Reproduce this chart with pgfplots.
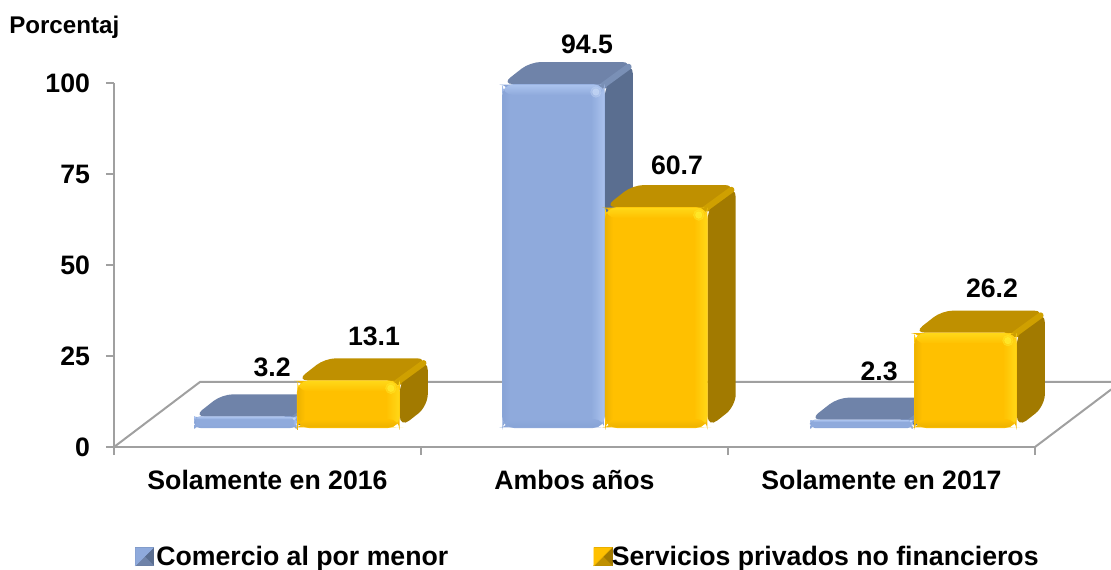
\documentclass[border=0pt]{standalone}
\usepackage{fontspec}
\setmainfont{Liberation Sans}
\usepackage{pgfplots}
\pgfplotsset{compat=1.18}

\definecolor{axisgray}{HTML}{A0A0A0}
% bar palettes: outer edge, light edge, face, top, side, diagonal band, highlight
\definecolor{bluea}{HTML}{87A3D6}
\definecolor{blueb}{HTML}{ABC3EE}
\definecolor{blueface}{HTML}{8FAADC}
\definecolor{bluetop}{HTML}{6F83A9}
\definecolor{blueside}{HTML}{5A6E90}
\definecolor{blueband}{HTML}{7A90B6}
\definecolor{bluespec}{HTML}{C6D8F6}
\definecolor{golda}{HTML}{EDB200}
\definecolor{goldb}{HTML}{FFD818}
\definecolor{goldface}{HTML}{FFC000}
\definecolor{goldtop}{HTML}{BF9000}
\definecolor{goldside}{HTML}{A27A00}
\definecolor{goldband}{HTML}{CFA000}
\definecolor{goldspec}{HTML}{FFEE30}

\newcommand{\chartfont}{\fontsize{20}{23}\selectfont\bfseries}

% rectangle as a closed plot, started mid-edge so that all corners get rounded
\newcommand{\rectplot}[6]{% fill options, radius, xl, xr, yb, yt
  \pgfmathsetmacro\xm{(#3+#4)/2}
  \edef\tmp{\noexpand\addplot[forget plot, draw=none, #1, rounded corners=#2pt]
    coordinates {(\xm,#5) (#4,#5) (#4,#6) (#3,#6) (#3,#5)} -- cycle;}\tmp
}
\newcommand{\polyplot}[3]{% colour, radius, points
  \edef\tmp{\noexpand\addplot[forget plot, draw=none, fill=#1, rounded corners=#2pt]
    coordinates {#3} -- cycle;}\tmp
}

% one 3D bar: palette, left x of the front face, value
\newcommand{\cube}[3]{%
  \pgfmathsetmacro\xl{#2}
  \pgfmathsetmacro\xr{#2+0.335}
  \pgfmathsetmacro\ya{5.22}
  \pgfmathsetmacro\yb{5.22+#3}
  \pgfmathsetmacro\xdr{\xr+0.0912}
  \pgfmathsetmacro\xdl{\xl+0.0912}
  \pgfmathsetmacro\ydb{\yb+6.04}
  \pgfmathsetmacro\yda{\ya+6.04}
  \pgfmathsetmacro\s{min(1,#3*3.64/40)}
  \pgfmathsetmacro\rad{min(9,(#3*3.64*0.75+1)/2)}
  \pgfmathsetmacro\xmid{(\xl+\xdr)/2}
  % top face and side face
  \polyplot{#1top}{8}{(\xmid,\yb) (\xr,\yb) (\xdr,\ydb) (\xdl,\ydb) (\xl,\yb)}
  % patch behind the corner where the three faces meet
  \pgfmathsetmacro\pxa{\xr-0.04}
  \pgfmathsetmacro\pxb{\xr+0.012}
  \pgfmathsetmacro\pya{\yb-1.2}
  \pgfmathsetmacro\pyb{\yb+0.9}
  \rectplot{fill=#1top}{0.01}{\pxa}{\pxb}{\pya}{\pyb}
  \pgfmathsetmacro\ysm{(\yb+\ya)/2}
  \polyplot{#1side}{\rad}{(\xr,\ysm) (\xr,\ya) (\xdr,\yda) (\xdr,\ydb) (\xr,\yb)}
  \pgfmathsetmacro\bxa{\xr-0.008}
  \pgfmathsetmacro\byb{\yb-0.5}
  \pgfmathsetmacro\bxb{\xdr-0.014}
  \pgfmathsetmacro\byc{\ydb-1.3}
  \edef\tmp{\noexpand\addplot[forget plot, color=#1band, line width=4.5pt, line cap=round]
    coordinates {(\bxa,\byb) (\bxb,\byc)};}\tmp
  % front face, then soft strips along its edges
  \rectplot{fill=#1face}{\rad}{\xl}{\xr}{\ya}{\yb}
  \pgfmathsetmacro\sxl{\xl+0.001}
  \pgfmathsetmacro\sxr{\xr-0.001}
  \pgfmathsetmacro\lw{\xl+\s*8/307}
  \pgfmathsetmacro\rw{\xr-\s*14/307}
  \pgfmathsetmacro\ttop{\yb-0.15}
  \pgfmathsetmacro\tbot{\yb-\s*11/3.64}
  \pgfmathsetmacro\btop{\ya+\s*9/3.64}
  \pgfmathsetmacro\bbot{\ya+0.15}
  \pgfmathsetmacro\srad{\rad*0.9}
  \rectplot{left color=#1a, right color=#1face}{\srad}{\sxl}{\lw}{\bbot}{\ttop}
  \rectplot{left color=#1face, right color=#1b}{\srad}{\rw}{\sxr}{\bbot}{\ttop}
  \rectplot{top color=#1face, bottom color=#1a}{\srad}{\sxl}{\sxr}{\bbot}{\btop}
  \rectplot{top color=#1b, bottom color=#1face}{\srad}{\sxl}{\sxr}{\tbot}{\ttop}
  % highlight at the upper right corner
  \pgfmathsetmacro\spx{\xr-9*\s/307}
  \pgfmathsetmacro\spy{\yb-8*\s/3.64}
  \pgfmathsetmacro\sps{2.4*\s}
  \pgfmathsetmacro\spt{4*\s}
  \edef\tmp{\noexpand\addplot[forget plot, only marks, mark=*, mark size=\spt pt, color=#1spec,
    mark options={opacity=0.35}] coordinates {(\spx,\spy)};}\tmp
  \edef\tmp{\noexpand\addplot[forget plot, only marks, mark=*, mark size=\sps pt, color=#1spec,
    mark options={opacity=0.7}] coordinates {(\spx,\spy)};}\tmp
}

\newcommand{\legendsquare}[1]{%
  \addlegendimage{legend image code/.code={
    \fill[#1side] (0pt,-6.75pt) rectangle (13.5pt,6.75pt);
    \fill[#1top] (0pt,-6.75pt) -- (13.5pt,-6.75pt) -- (6.75pt,0pt) -- cycle;
    \fill[#1face] (0pt,-6.75pt) -- (0pt,6.75pt) -- (13.5pt,6.75pt) -- cycle;
  }}
}

\begin{document}
\begin{tikzpicture}
\useasboundingbox (-85.5pt,-91.5pt) rectangle (747.75pt,335.25pt);
\begin{axis}[
    scale only axis,
    width=690.75pt,
    height=273pt,
    clip=false,
    xmin=0, xmax=3,
    ymin=0, ymax=100,
    axis lines*=left,
    axis line style={axisgray, line width=1.5pt},
    tick style={axisgray, line width=1pt},
    tick align=outside,
    major tick length=6pt,
    xtick={0,1,2,3},
    xticklabels={},
    extra x ticks={0.5,1.5,2.5},
    extra x tick labels={Solamente en 2016, Ambos años, Solamente en 2017},
    extra x tick style={tick style={draw=none}},
    ytick={0,25,50,75,100},
    /pgf/number format/assume math mode=true,
    tick label style={font=\chartfont, text=black},
    x tick label style={yshift=-8pt},
    y tick label style={xshift=-8.5pt},
    legend style={at={(0.0227,-0.3010)}, anchor=west, draw=none, fill=none,
      legend columns=2, font=\chartfont, inner sep=0pt, row sep=0pt,
      /tikz/column 2/.style={column sep=107pt},
      /tikz/column 3/.style={column sep=-2.25pt}},
    legend cell align=left,
]
% floor of the 3D box
\addplot[forget plot, color=axisgray, line width=1.5pt]
  coordinates {(0,0) (0.28,17.86) (3.248,17.86)};
\addplot[forget plot, color=axisgray, line width=1.5pt]
  coordinates {(3,0) (3.248,15.8)};

% Comercio al por menor / Servicios privados no financieros
\cube{blue}{0.2606}{3.2}
\cube{gold}{0.596}{13.1}
\cube{blue}{1.264}{94.5}
\cube{gold}{1.599}{60.7}
\cube{blue}{2.267}{2.3}
\cube{gold}{2.606}{26.2}

% value labels
\addplot[forget plot, draw=none, mark=none, nodes near coords, point meta=explicit symbolic,
    every node near coord/.append style={anchor=center, font=\chartfont, text=black}]
  coordinates {
    (0.515,21.98) [3.2]
    (0.847,30.49) [13.1]
    (1.541,110.7) [94.5]
    (1.834,77.47) [60.7]
    (2.492,20.88) [2.3]
    (2.860,43.68) [26.2]
  };

\node[anchor=west, font=\fontsize{18.1}{21}\selectfont\bfseries, inner sep=0pt]
  at (axis cs:-0.342,115.4) {Porcentaj};

\legendsquare{blue}
\addlegendentry{Comercio al por menor}
\legendsquare{gold}
\addlegendentry{Servicios privados no financieros}
\end{axis}
\end{tikzpicture}
\end{document}
